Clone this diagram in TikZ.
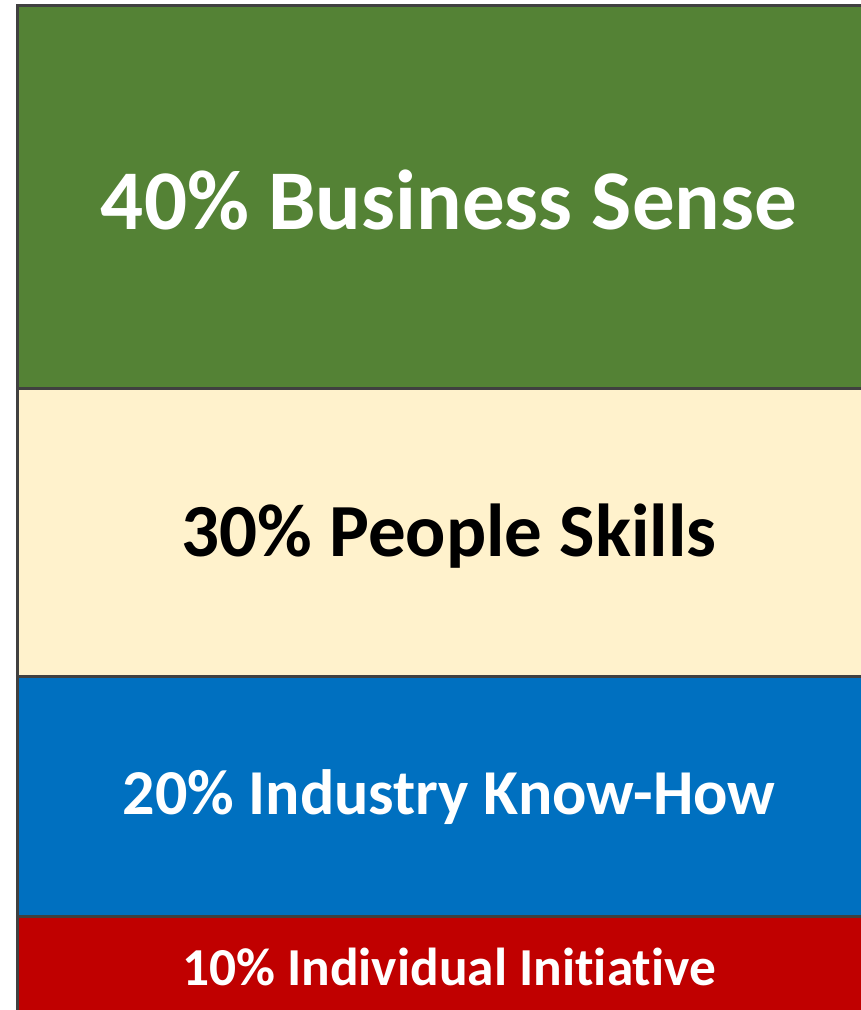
\documentclass[tikz,border=0pt]{standalone}
\usepackage{fontspec}
\setmainfont{Carlito}[Ligatures=NoCommon]
\definecolor{bgreen}{HTML}{548235}
\definecolor{bcream}{HTML}{FFF2CC}
\definecolor{bblue}{HTML}{0070C0}
\definecolor{bred}{HTML}{C00000}
\definecolor{bline}{HTML}{404040}
\begin{document}
\begin{tikzpicture}[x=1pt,y=-1pt,
  band/.style={draw=bline,line width=3pt},
  lbl/.style={inner sep=0pt}]
\useasboundingbox (0,0) rectangle (861,1010);
\clip (0,0) rectangle (861,1010);
\path[band,fill=bgreen] (17,5) rectangle (881,388);
\path[band,fill=bcream] (17,388) rectangle (881,676);
\path[band,fill=bblue] (17,676) rectangle (881,916);
\path[band,fill=bred] (17,916) rectangle (881,1030);
\node[lbl,text=white,font=\fontsize{85}{90}\selectfont\bfseries] (t1) at (449,200) {40\% Business Sense};
\node[lbl,text=black,font=\fontsize{75}{79}\selectfont\bfseries] (t2) at (449,536) {30\% People Skills};
\node[lbl,text=white,font=\fontsize{64}{67}\selectfont\bfseries] (t3) at (449,797) {20\% Industry Know-How};
\node[lbl,text=white,font=\fontsize{53.4}{56}\selectfont\bfseries] (t4) at (449,967) {10\% Individual Initiative};
\end{tikzpicture}
\end{document}
